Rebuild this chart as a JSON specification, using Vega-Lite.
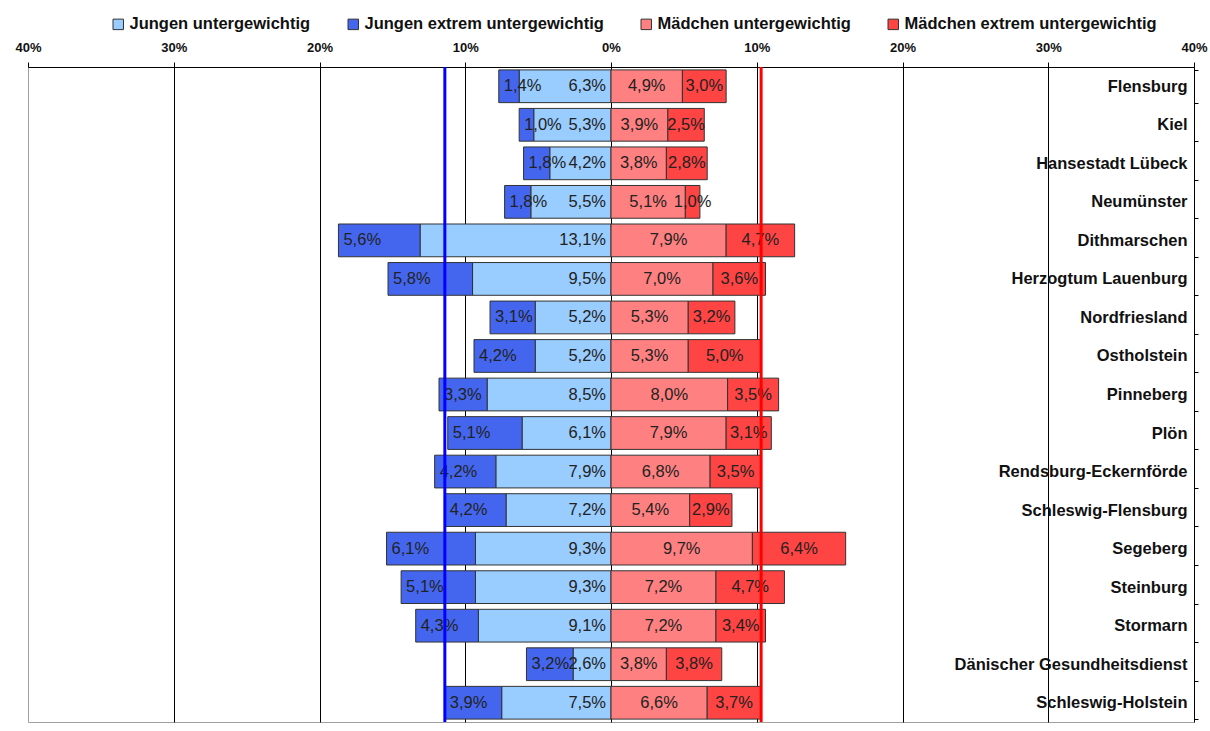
{
  "$schema": "https://vega.github.io/schema/vega-lite/v6.json",
  "width": 1166,
  "height": 655,
  "autosize": {"type": "none"},
  "padding": {"left": 28, "top": 67, "right": 16, "bottom": 9},
  "background": "white",
  "config": {
    "view": {"stroke": "#a0a0a0", "strokeWidth": 1},
    "font": "Liberation Sans"
  },
  "data": {
    "values": [
      {"region": "Flensburg", "kategorie": "Jungen untergewichtig", "wert": 6.3},
      {"region": "Flensburg", "kategorie": "Jungen extrem untergewichtig", "wert": 1.4},
      {"region": "Flensburg", "kategorie": "Mädchen untergewichtig", "wert": 4.9},
      {"region": "Flensburg", "kategorie": "Mädchen extrem untergewichtig", "wert": 3.0},
      {"region": "Kiel", "kategorie": "Jungen untergewichtig", "wert": 5.3},
      {"region": "Kiel", "kategorie": "Jungen extrem untergewichtig", "wert": 1.0},
      {"region": "Kiel", "kategorie": "Mädchen untergewichtig", "wert": 3.9},
      {"region": "Kiel", "kategorie": "Mädchen extrem untergewichtig", "wert": 2.5},
      {"region": "Hansestadt Lübeck", "kategorie": "Jungen untergewichtig", "wert": 4.2},
      {"region": "Hansestadt Lübeck", "kategorie": "Jungen extrem untergewichtig", "wert": 1.8},
      {"region": "Hansestadt Lübeck", "kategorie": "Mädchen untergewichtig", "wert": 3.8},
      {"region": "Hansestadt Lübeck", "kategorie": "Mädchen extrem untergewichtig", "wert": 2.8},
      {"region": "Neumünster", "kategorie": "Jungen untergewichtig", "wert": 5.5},
      {"region": "Neumünster", "kategorie": "Jungen extrem untergewichtig", "wert": 1.8},
      {"region": "Neumünster", "kategorie": "Mädchen untergewichtig", "wert": 5.1},
      {"region": "Neumünster", "kategorie": "Mädchen extrem untergewichtig", "wert": 1.0},
      {"region": "Dithmarschen", "kategorie": "Jungen untergewichtig", "wert": 13.1},
      {"region": "Dithmarschen", "kategorie": "Jungen extrem untergewichtig", "wert": 5.6},
      {"region": "Dithmarschen", "kategorie": "Mädchen untergewichtig", "wert": 7.9},
      {"region": "Dithmarschen", "kategorie": "Mädchen extrem untergewichtig", "wert": 4.7},
      {"region": "Herzogtum Lauenburg", "kategorie": "Jungen untergewichtig", "wert": 9.5},
      {"region": "Herzogtum Lauenburg", "kategorie": "Jungen extrem untergewichtig", "wert": 5.8},
      {"region": "Herzogtum Lauenburg", "kategorie": "Mädchen untergewichtig", "wert": 7.0},
      {"region": "Herzogtum Lauenburg", "kategorie": "Mädchen extrem untergewichtig", "wert": 3.6},
      {"region": "Nordfriesland", "kategorie": "Jungen untergewichtig", "wert": 5.2},
      {"region": "Nordfriesland", "kategorie": "Jungen extrem untergewichtig", "wert": 3.1},
      {"region": "Nordfriesland", "kategorie": "Mädchen untergewichtig", "wert": 5.3},
      {"region": "Nordfriesland", "kategorie": "Mädchen extrem untergewichtig", "wert": 3.2},
      {"region": "Ostholstein", "kategorie": "Jungen untergewichtig", "wert": 5.2},
      {"region": "Ostholstein", "kategorie": "Jungen extrem untergewichtig", "wert": 4.2},
      {"region": "Ostholstein", "kategorie": "Mädchen untergewichtig", "wert": 5.3},
      {"region": "Ostholstein", "kategorie": "Mädchen extrem untergewichtig", "wert": 5.0},
      {"region": "Pinneberg", "kategorie": "Jungen untergewichtig", "wert": 8.5},
      {"region": "Pinneberg", "kategorie": "Jungen extrem untergewichtig", "wert": 3.3},
      {"region": "Pinneberg", "kategorie": "Mädchen untergewichtig", "wert": 8.0},
      {"region": "Pinneberg", "kategorie": "Mädchen extrem untergewichtig", "wert": 3.5},
      {"region": "Plön", "kategorie": "Jungen untergewichtig", "wert": 6.1},
      {"region": "Plön", "kategorie": "Jungen extrem untergewichtig", "wert": 5.1},
      {"region": "Plön", "kategorie": "Mädchen untergewichtig", "wert": 7.9},
      {"region": "Plön", "kategorie": "Mädchen extrem untergewichtig", "wert": 3.1},
      {"region": "Rendsburg-Eckernförde", "kategorie": "Jungen untergewichtig", "wert": 7.9},
      {"region": "Rendsburg-Eckernförde", "kategorie": "Jungen extrem untergewichtig", "wert": 4.2},
      {"region": "Rendsburg-Eckernförde", "kategorie": "Mädchen untergewichtig", "wert": 6.8},
      {"region": "Rendsburg-Eckernförde", "kategorie": "Mädchen extrem untergewichtig", "wert": 3.5},
      {"region": "Schleswig-Flensburg", "kategorie": "Jungen untergewichtig", "wert": 7.2},
      {"region": "Schleswig-Flensburg", "kategorie": "Jungen extrem untergewichtig", "wert": 4.2},
      {"region": "Schleswig-Flensburg", "kategorie": "Mädchen untergewichtig", "wert": 5.4},
      {"region": "Schleswig-Flensburg", "kategorie": "Mädchen extrem untergewichtig", "wert": 2.9},
      {"region": "Segeberg", "kategorie": "Jungen untergewichtig", "wert": 9.3},
      {"region": "Segeberg", "kategorie": "Jungen extrem untergewichtig", "wert": 6.1},
      {"region": "Segeberg", "kategorie": "Mädchen untergewichtig", "wert": 9.7},
      {"region": "Segeberg", "kategorie": "Mädchen extrem untergewichtig", "wert": 6.4},
      {"region": "Steinburg", "kategorie": "Jungen untergewichtig", "wert": 9.3},
      {"region": "Steinburg", "kategorie": "Jungen extrem untergewichtig", "wert": 5.1},
      {"region": "Steinburg", "kategorie": "Mädchen untergewichtig", "wert": 7.2},
      {"region": "Steinburg", "kategorie": "Mädchen extrem untergewichtig", "wert": 4.7},
      {"region": "Stormarn", "kategorie": "Jungen untergewichtig", "wert": 9.1},
      {"region": "Stormarn", "kategorie": "Jungen extrem untergewichtig", "wert": 4.3},
      {"region": "Stormarn", "kategorie": "Mädchen untergewichtig", "wert": 7.2},
      {"region": "Stormarn", "kategorie": "Mädchen extrem untergewichtig", "wert": 3.4},
      {"region": "Dänischer Gesundheitsdienst", "kategorie": "Jungen untergewichtig", "wert": 2.6},
      {"region": "Dänischer Gesundheitsdienst", "kategorie": "Jungen extrem untergewichtig", "wert": 3.2},
      {"region": "Dänischer Gesundheitsdienst", "kategorie": "Mädchen untergewichtig", "wert": 3.8},
      {"region": "Dänischer Gesundheitsdienst", "kategorie": "Mädchen extrem untergewichtig", "wert": 3.8},
      {"region": "Schleswig-Holstein", "kategorie": "Jungen untergewichtig", "wert": 7.5},
      {"region": "Schleswig-Holstein", "kategorie": "Jungen extrem untergewichtig", "wert": 3.9},
      {"region": "Schleswig-Holstein", "kategorie": "Mädchen untergewichtig", "wert": 6.6},
      {"region": "Schleswig-Holstein", "kategorie": "Mädchen extrem untergewichtig", "wert": 3.7}
    ]
  },
  "transform": [
    {"calculate": "indexof(datum.kategorie, 'Jungen') == 0 ? -datum.wert : datum.wert", "as": "signed"},
    {"calculate": "indexof(datum.kategorie, 'extrem') >= 0 ? 2 : 1", "as": "ord"},
    {"stack": "signed", "groupby": ["region"], "sort": [{"field": "ord", "order": "ascending"}], "offset": "zero", "as": ["s0", "s1"]},
    {"calculate": "(datum.s0 + datum.s1) / 2", "as": "mid"},
    {"calculate": "min(datum.s0, datum.s1)", "as": "lo"},
    {"calculate": "replace(format(datum.wert, '.1f'), '.', ',') + '%'", "as": "label"}
  ],
  "layer": [
    {
      "mark": {"type": "bar", "stroke": "#333333", "strokeWidth": 1},
      "encoding": {
        "y": {
          "field": "region", "type": "nominal", "sort": null,
          "scale": {"paddingInner": 0.15, "paddingOuter": 0.075},
          "axis": {
            "orient": "right", "title": null,
            "domainColor": "#000000", "domainWidth": 1,
            "tickColor": "#000000", "tickSize": 4, "tickBand": "extent",
            "labelAlign": "right", "labelPadding": -11,
            "labelFont": "Liberation Sans", "labelFontWeight": "bold", "labelFontSize": 16.5,
            "labelColor": "#111111", "labelLimit": 400, "grid": false
          }
        },
        "x": {
          "field": "s0", "type": "quantitative",
          "scale": {"domain": [-40, 40], "nice": false, "zero": false},
          "axis": {
            "orient": "top", "title": null,
            "values": [-40, -30, -20, -10, 0, 10, 20, 30, 40],
            "labelExpr": "abs(datum.value) + '%'",
            "labelFont": "Liberation Sans", "labelFontWeight": "bold", "labelFontSize": 13,
            "labelColor": "#111111", "labelFlush": false, "labelOverlap": false, "labelPadding": 8,
            "domainColor": "#000000", "domainWidth": 1,
            "tickColor": "#000000", "tickSize": 5,
            "grid": true, "gridColor": "#000000", "gridWidth": 1,
            "gridOpacity": {"condition": {"test": "abs(datum.value) == 40", "value": 0}, "value": 1}
          }
        },
        "x2": {"field": "s1"},
        "color": {
          "field": "kategorie", "type": "nominal",
          "scale": {
            "domain": ["Jungen untergewichtig", "Jungen extrem untergewichtig", "Mädchen untergewichtig", "Mädchen extrem untergewichtig"],
            "range": ["#99ccff", "#4466ee", "#ff8080", "#ff4444"]
          },
          "legend": {
            "orient": "none", "legendX": 82, "legendY": -51,
            "direction": "horizontal", "title": null,
            "symbolType": "square", "symbolSize": 110, "symbolStrokeColor": "#333333", "symbolStrokeWidth": 1,
            "symbolOpacity": 1,
            "labelFont": "Liberation Sans", "labelFontWeight": "bold", "labelFontSize": 16.5, "labelColor": "#111111",
            "labelOffset": 3, "columnPadding": 34, "labelLimit": 400, "padding": 0
          }
        }
      }
    },
    {
      "transform": [{"filter": "datum.kategorie == 'Jungen untergewichtig'"}],
      "mark": {"type": "text", "align": "right", "baseline": "middle", "dx": -5, "fontSize": 16.5, "font": "Liberation Sans", "color": "#222222"},
      "encoding": {
        "y": {"field": "region", "type": "nominal", "sort": null},
        "x": {"datum": 0, "type": "quantitative"},
        "text": {"field": "label"}
      }
    },
    {
      "transform": [{"filter": "datum.kategorie == 'Jungen extrem untergewichtig'"}],
      "mark": {"type": "text", "align": "left", "baseline": "middle", "dx": 5, "fontSize": 16.5, "font": "Liberation Sans", "color": "#222222"},
      "encoding": {
        "y": {"field": "region", "type": "nominal", "sort": null},
        "x": {"field": "lo", "type": "quantitative"},
        "text": {"field": "label"}
      }
    },
    {
      "transform": [{"filter": "indexof(datum.kategorie, 'Mädchen') == 0"}],
      "mark": {"type": "text", "align": "center", "baseline": "middle", "fontSize": 16.5, "font": "Liberation Sans", "color": "#222222"},
      "encoding": {
        "y": {"field": "region", "type": "nominal", "sort": null},
        "x": {"field": "mid", "type": "quantitative"},
        "text": {"field": "label"}
      }
    },
    {
      "data": {"values": [
        {"geschlecht": "Jungen", "wert": 11.4},
        {"geschlecht": "Mädchen", "wert": 10.3}
      ]},
      "transform": [
        {"calculate": "datum.geschlecht == 'Jungen' ? -datum.wert : datum.wert", "as": "signed"}
      ],
      "mark": {"type": "rule", "strokeWidth": 3},
      "encoding": {
        "x": {"field": "signed", "type": "quantitative"},
        "color": {"condition": {"test": "datum.geschlecht == 'Jungen'", "value": "#0000ff"}, "value": "#ff0000"}
      }
    }
  ]
}
